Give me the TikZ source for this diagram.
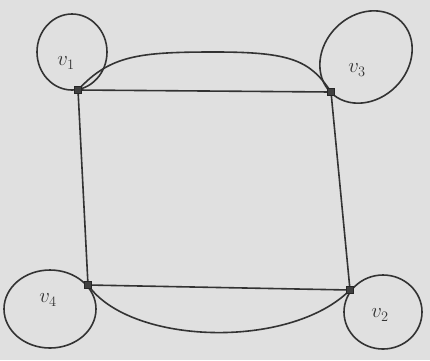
\documentclass[tikz,border=0pt]{standalone}
\begin{document}
\begin{tikzpicture}[x=1pt,y=-1pt,
  ink/.style={draw=black!80,line width=1.6pt},
  vert/.style={rectangle,fill=black!75,draw=black!85,minimum size=7pt,inner sep=0pt},
  lab/.style={font=\fontsize{22}{24}\selectfont,text=black!80}]
\fill[black!12] (0,0) rectangle (430,360);
\useasboundingbox (0,0) rectangle (430,360);
% vertices
\node[vert] (v1) at (78,90) {};
\node[vert] (v3) at (331,92) {};
\node[vert] (v4) at (88,285) {};
\node[vert] (v2) at (350,290) {};
% loops
\draw[ink] (72,52) ellipse [x radius=35, y radius=38];
\draw[ink,rotate around={45:(366,57)}] (366,57) ellipse [x radius=50, y radius=42];
\draw[ink] (50,309) ellipse [x radius=46, y radius=39];
\draw[ink] (383,312) ellipse [x radius=39, y radius=37];
% edges
\draw[ink] (v1.center) -- (v3.center);
\draw[ink] (v1.center) -- (v4.center);
\draw[ink] (v3.center) -- (v2.center);
\draw[ink] (v4.center) -- (v2.center);
\draw[ink] (v1.center) .. controls (110,55) and (140,52) .. (215,52) .. controls (290,52) and (310,60) .. (v3.center);
\draw[ink] (v4.center) .. controls (130,345) and (290,350) .. (v2.center);
% vertex marks on top
\node[vert] at (v1) {};
\node[vert] at (v3) {};
\node[vert] at (v4) {};
\node[vert] at (v2) {};
% labels
\node[lab] (l1) at (66,63) {$v_1$};
\node[lab] (l3) at (357,70) {$v_3$};
\node[lab] (l4) at (48,300) {$v_4$};
\node[lab] (l2) at (380,315) {$v_2$};
\end{tikzpicture}
\end{document}
